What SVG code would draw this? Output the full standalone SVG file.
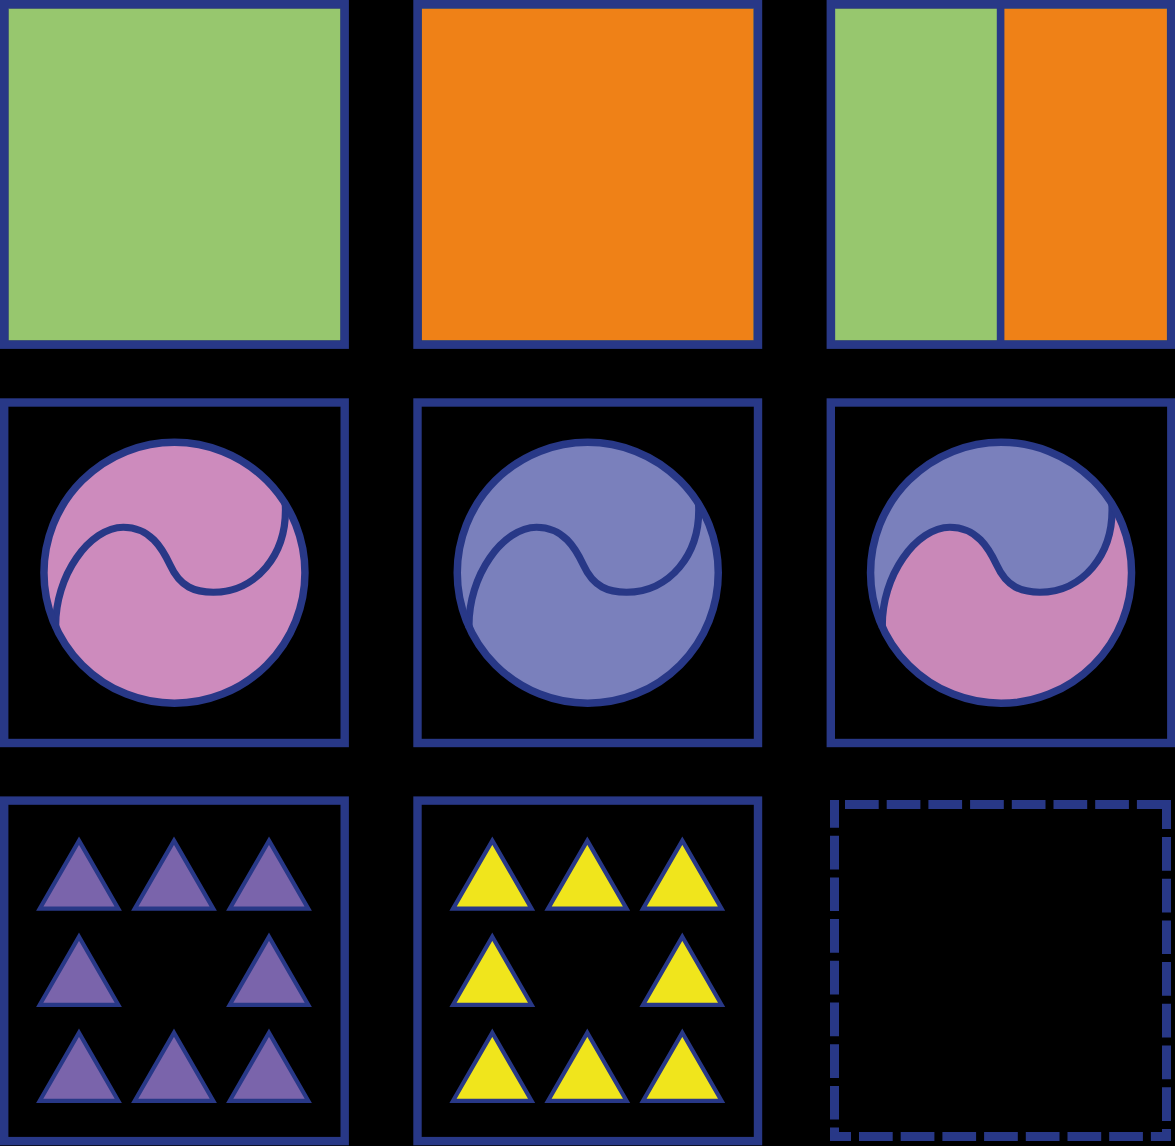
<svg xmlns="http://www.w3.org/2000/svg" xmlns:xlink="http://www.w3.org/1999/xlink" width="1175" height="1146" viewBox="0 0 1175 1146">
  <style>
    .frame { fill: none; stroke: #283887; stroke-width: 8.4; }
    .fillEdge { stroke: #5b7a82; stroke-width: 0.6; }
    .green { fill: #97C76E; }
    .orange { fill: #EF8117; }
    .pink { fill: #CD8BBD; }
    .pink2 { fill: #C988B8; }
    .lav { fill: #7A80BC; }
    .ring { fill: none; stroke: #283887; stroke-width: 7.5; }
    .wave { fill: none; stroke: #283887; stroke-width: 7.2; stroke-linecap: butt; }
    .tri { stroke: #283887; stroke-width: 4.2; stroke-linejoin: miter; }
    .purple { fill: #7A64AB; }
    .yellow { fill: #F0E51C; }
    .dash { fill: none; stroke: #283887; stroke-width: 9; stroke-dasharray: 33.7 8; }
  </style>
  <defs>
    <path id="tri" d="M0,-34 L39.26,34 L-39.26,34 Z"/>
    <path id="wave" d="M -118.7,55.5 C -120.2,2.5 -84.2,-45.5 -51.2,-45.5 C -24.2,-45.5 -12.2,-24.5 -4.2,-7.5 C 5.8,14.5 20.8,19.5 38.8,19.5 C 80.8,19.5 113.8,-17.5 110.8,-69.5"/>
    <clipPath id="discClip">
      <circle cx="0" cy="0" r="130.5"/>
    </clipPath>
    <path id="topHalf" d="M -118.7,55.5 C -120.2,2.5 -84.2,-45.5 -51.2,-45.5 C -24.2,-45.5 -12.2,-24.5 -4.2,-7.5 C 5.8,14.5 20.8,19.5 38.8,19.5 C 80.8,19.5 113.8,-17.5 110.8,-69.5 L 150,-150 L -150,-150 L -150,55.5 Z"/>
  </defs>
  <rect x="0" y="0" width="1175" height="1146" fill="#000000"/>

  <g id="cell-green">
    <rect class="green fillEdge" x="8.4" y="8.4" width="332.1" height="332.1"/>
    <rect class="frame" x="4.2" y="4.2" width="340.5" height="340.5"/>
  </g>

  <g id="cell-orange">
    <rect class="orange fillEdge" x="421.7" y="8.4" width="332.1" height="332.1"/>
    <rect class="frame" x="417.5" y="4.2" width="340.5" height="340.5"/>
  </g>

  <g id="cell-green-orange">
    <rect class="green fillEdge" x="835" y="8.4" width="165.5" height="332.1"/>
    <rect class="orange fillEdge" x="1000.5" y="8.4" width="166.6" height="332.1"/>
    <line x1="1000.6" y1="4.2" x2="1000.6" y2="344.7" stroke="#283887" stroke-width="7.6"/>
    <rect class="frame" x="830.8" y="4.2" width="340.5" height="340.5"/>
  </g>

  <g id="cell-pink-circle">
    <rect class="frame" x="4.2" y="402.5" width="340.5" height="340.5"/>
    <g transform="translate(174.45,572.75)">
      <circle class="pink" cx="0" cy="0" r="130.5"/>
      <use xlink:href="#wave" class="wave"/>
      <circle class="ring" cx="0" cy="0" r="130.5"/>
    </g>
  </g>

  <g id="cell-lavender-circle">
    <rect class="frame" x="417.5" y="402.5" width="340.5" height="340.5"/>
    <g transform="translate(587.75,572.75)">
      <circle class="lav" cx="0" cy="0" r="130.5"/>
      <use xlink:href="#wave" class="wave"/>
      <circle class="ring" cx="0" cy="0" r="130.5"/>
    </g>
  </g>

  <g id="cell-mixed-circle">
    <rect class="frame" x="830.8" y="402.5" width="340.5" height="340.5"/>
    <g transform="translate(1001.05,572.75)">
      <circle class="pink2" cx="0" cy="0" r="130.5"/>
      <use xlink:href="#topHalf" class="lav" clip-path="url(#discClip)"/>
      <use xlink:href="#wave" class="wave"/>
      <circle class="ring" cx="0" cy="0" r="130.5"/>
    </g>
  </g>

  <g id="cell-purple-triangles">
    <rect class="frame" x="4.2" y="800.6" width="340.5" height="340.5"/>
    <g class="tri purple">
      <use xlink:href="#tri" x="79" y="874.6"/>
      <use xlink:href="#tri" x="174" y="874.6"/>
      <use xlink:href="#tri" x="269" y="874.6"/>
      <use xlink:href="#tri" x="79" y="970.8"/>
      <use xlink:href="#tri" x="269" y="970.8"/>
      <use xlink:href="#tri" x="79" y="1066.8"/>
      <use xlink:href="#tri" x="174" y="1066.8"/>
      <use xlink:href="#tri" x="269" y="1066.8"/>
    </g>
  </g>

  <g id="cell-yellow-triangles">
    <rect class="frame" x="417.5" y="800.6" width="340.5" height="340.5"/>
    <g class="tri yellow">
      <use xlink:href="#tri" x="492.3" y="874.6"/>
      <use xlink:href="#tri" x="587.3" y="874.6"/>
      <use xlink:href="#tri" x="682.3" y="874.6"/>
      <use xlink:href="#tri" x="492.3" y="970.8"/>
      <use xlink:href="#tri" x="682.3" y="970.8"/>
      <use xlink:href="#tri" x="492.3" y="1066.8"/>
      <use xlink:href="#tri" x="587.3" y="1066.8"/>
      <use xlink:href="#tri" x="682.3" y="1066.8"/>
    </g>
  </g>

  <g id="cell-empty-dashed">
    <line class="dash" x1="834.5" y1="800" x2="834.5" y2="1141" stroke-dashoffset="6"/>
    <line class="dash" x1="1166.5" y1="800" x2="1166.5" y2="1141" stroke-dashoffset="4.7"/>
    <line class="dash" x1="830" y1="1136.5" x2="1171" y2="1136.5" stroke-dashoffset="12.7"/>
    <line class="dash" x1="837" y1="804.5" x2="1171" y2="804.5" stroke-dashoffset="33.7"/>
  </g>

  <g id="connectors"/>
</svg>
